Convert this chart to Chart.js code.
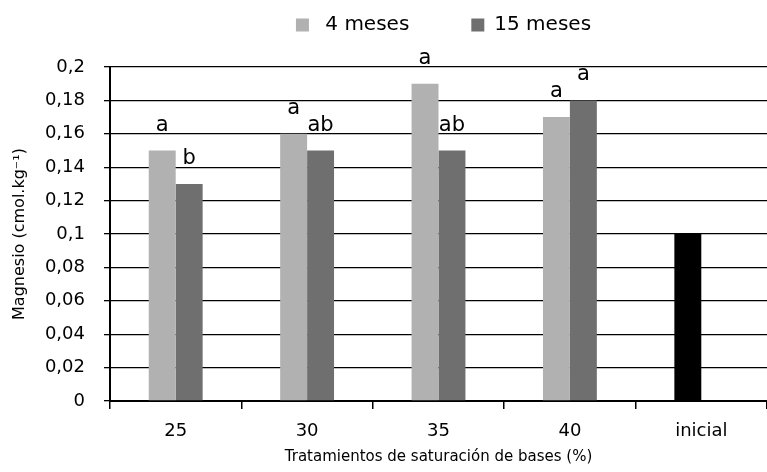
<!DOCTYPE html>
<html>
<head>
<meta charset="utf-8">
<script src="https://cdn.jsdelivr.net/npm/chart.js@4"></script>
<style>
  html, body { margin: 0; padding: 0; background: #fff; }
  #wrap { width: 767px; height: 472px; }
</style>
</head>
<body>
<div id="wrap"><canvas id="chart" width="767" height="472"></canvas></div>
<script>
// datos
const categorias = ['25', '30', '35', '40', 'inicial'];
const meses4 = [0.15, 0.16, 0.19, 0.17, null];
const meses15 = [0.13, 0.15, 0.15, 0.18, null];
const inicial = [null, null, null, null, 0.10];
const letras4 = ['a', 'a', 'a', 'a', ''];
const letras15 = ['b', 'ab', 'ab', 'a', ''];
const yTicks = [0, 0.02, 0.04, 0.06, 0.08, 0.1, 0.12, 0.14, 0.16, 0.18, 0.2];

const fuente = "'DejaVu Sans', sans-serif";

// letras de significancia encima de las barras
const letrasPlugin = {
    id: 'letras',
    afterDatasetsDraw(chart) {
        const c = chart.ctx;
        c.save();
        c.font = '21px ' + fuente;
        c.fillStyle = '#000';
        c.textAlign = 'center';
        c.textBaseline = 'alphabetic';
        [[0, letras4], [1, letras15]].forEach(([ds, letras]) => {
            chart.getDatasetMeta(ds).data.forEach((bar, i) => {
                if (!letras[i]) return;
                c.fillText(letras[i], bar.x, bar.y - 20);
            });
        });
        c.restore();
    }
};

// leyenda: alto fijo y centrada sobre el area del grafico
const leyendaPlugin = {
    id: 'leyenda',
    beforeInit(chart) {
        const fitOrig = chart.legend.fit;
        chart.legend.fit = function () {
            fitOrig.bind(chart.legend)();
            this.height = 114;
        };
    },
    afterLayout(chart) {
        chart.legend.left = chart.chartArea.left + 5;
        chart.legend.right = chart.chartArea.right + 5;
    }
};

new Chart(document.getElementById('chart').getContext('2d'), {
    type: 'bar',
    data: {
        labels: categorias,
        datasets: [
            { label: ' 4 meses', data: meses4, backgroundColor: '#b1b1b1', stack: 's1' },
            { label: '15 meses', data: meses15, backgroundColor: '#6f6f6f', stack: 's2' },
            { label: 'inicial', data: inicial, backgroundColor: '#000000', stack: 's1' }
        ]
    },
    options: {
        responsive: false,
        animation: false,
        categoryPercentage: 0.41,
        barPercentage: 1,
        layout: { padding: { left: 10, right: 0, top: -47, bottom: 6 } },
        plugins: {
            tooltip: { enabled: false },
            legend: {
                position: 'top',
                labels: {
                    filter: item => item.datasetIndex < 2,
                    boxWidth: 13,
                    boxHeight: 13,
                    padding: 62,
                    color: '#000',
                    font: { family: fuente, size: 20 }
                }
            }
        },
        scales: {
            x: {
                stacked: true,
                afterFit: axis => { axis.height = 65; },
                grid: {
                    offset: true,
                    drawOnChartArea: false,
                    drawTicks: true,
                    tickLength: 8,
                    color: '#000',
                    lineWidth: 1.5
                },
                border: { color: '#000', width: 2 },
                ticks: { color: '#000', font: { family: fuente, size: 18 }, padding: 12 },
                title: {
                    display: true,
                    text: 'Tratamientos de saturación de bases (%)',
                    color: '#000',
                    font: { family: fuente, size: 15 },
                    padding: { top: 0, bottom: 0 }
                }
            },
            y: {
                stacked: true,
                min: 0,
                max: 0.2,
                afterFit: axis => { axis.width = 100; },
                afterBuildTicks: axis => { axis.ticks = yTicks.map(v => ({ value: v })); },
                grid: { color: '#000', lineWidth: 1.3, tickLength: 6 },
                border: { color: '#000', width: 2 },
                ticks: {
                    color: '#000',
                    font: { family: fuente, size: 18 },
                    padding: 19,
                    callback: v => String(Number(v.toFixed(2))).replace('.', ',')
                },
                title: {
                    display: true,
                    text: 'Magnesio (cmol.kg⁻¹)',
                    color: '#000',
                    font: { family: fuente, size: 16 },
                    padding: { top: 0, bottom: 0 }
                }
            }
        }
    },
    plugins: [letrasPlugin, leyendaPlugin]
});
</script>
</body>
</html>
